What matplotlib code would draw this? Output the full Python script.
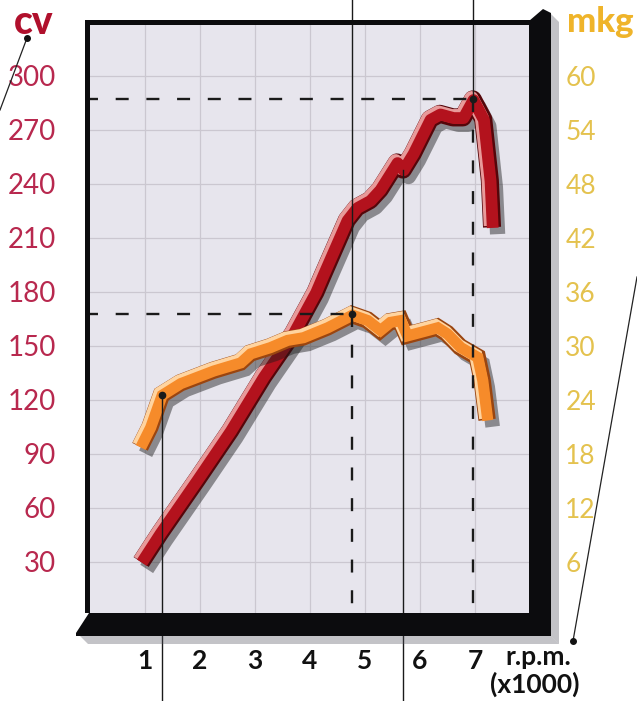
import matplotlib.pyplot as plt
import matplotlib.patheffects as pe
import matplotlib.transforms as mtransforms
from matplotlib.patches import Polygon
from matplotlib.lines import Line2D

plt.rcParams['font.family'] = ['Lato', 'DejaVu Sans']

# power curve (cv) against engine speed (x1000 rpm)
rpm_power = [0.93, 1.27, 1.95, 2.55, 3.15, 3.69, 4.1, 4.24, 4.67, 4.85, 5.09,
             5.27, 5.58, 5.69, 5.87, 6.18, 6.36, 6.6, 6.78, 6.96, 7.15, 7.27, 7.31]
power_cv = [30, 46, 76, 103, 133, 157, 180, 190, 220, 227, 231,
            237, 252, 248, 257, 276, 279, 277, 277, 287, 276, 242, 216]

# torque curve (mkg)
rpm_torque = [0.91, 1.09, 1.3, 1.64, 2.24, 2.73, 2.91, 3.27, 3.58, 3.87, 4.31, 4.76,
              5.04, 5.27, 5.45, 5.64, 5.76, 6.13, 6.31, 6.49, 6.73, 7.04, 7.13, 7.22]
torque_mkg = [18.8, 21, 24.6, 25.9, 27.3, 28.2, 29.2, 29.9, 30.7, 31, 32.1, 33.5,
              32.9, 31.8, 32.7, 32.9, 31.2, 31.8, 32.1, 31.4, 29.9, 28.8, 26.2, 21.8]

cv_ticks = list(range(30, 301, 30))
mkg_ticks = list(range(6, 61, 6))
rpm_ticks = list(range(1, 8))

W, H = 637, 701
fig = plt.figure(figsize=(W / 100, H / 100), dpi=100)
# pixel coordinates (origin top-left) for the decorations
px = mtransforms.Affine2D().scale(1 / W, -1 / H).translate(0, 1) + fig.transFigure

L, T, R, B = 85, 20, 532, 613
ax = fig.add_axes([L / W, 1 - B / H, (R - L) / W, (B - T) / H])
ax.set_facecolor('#e7e5ed')
ax.set_xlim(1 + (L - 145) / 55, 1 + (R - 145) / 55)
ax.set_ylim((616 - B) / 1.8, (616 - T) / 1.8)
for s in ax.spines.values():
    s.set_visible(False)

ax.set_xticks(rpm_ticks)
ax.set_yticks(cv_ticks)
ax.grid(True, color='#cbc7d0', lw=0.9)
ax.set_axisbelow(True)
ax.tick_params(axis='y', length=0, pad=21, labelsize=20, labelcolor='#b8284e')
ax.tick_params(axis='x', length=0, pad=26, labelsize=19, labelcolor='#111111')
for lbl in ax.get_xticklabels():
    lbl.set_fontweight('bold')

sec = ax.secondary_yaxis('right', functions=(lambda c: c / 5, lambda m: m * 5))
sec.set_yticks(mkg_ticks)
sec.tick_params(length=0, pad=24, labelsize=19, labelcolor='#e4c24e')
for s in sec.spines.values():
    s.set_visible(False)


def ribbon(x, y, main, dark, light, lw, join):
    ax.plot(x, y, color=main, lw=lw, solid_capstyle='butt', solid_joinstyle=join,
            zorder=3, path_effects=[
                pe.SimpleLineShadow(offset=(4, -5), shadow_color='#1a1a1a', alpha=0.45),
                pe.Stroke(linewidth=lw + 2, foreground=dark),
                pe.Stroke(linewidth=lw - 1, foreground=light, offset=(-1, 1)),
                pe.Stroke(linewidth=lw - 2.5, foreground=main, offset=(0.5, -0.5)),
            ])


ribbon(rpm_power, power_cv, '#b3121d', '#55060a', '#e89a9a', 11, 'round')
torque_cv = [m * 5 for m in torque_mkg]
ribbon(rpm_torque, torque_cv, '#f68b2a', '#9a4510', '#ffd4a0', 10.5, 'miter')

# peak markers and call-out lines
inv = ax.transData.inverted()
y_fig_top = inv.transform(fig.transFigure.transform((0, 1)))[1]
y_fig_bot = inv.transform(fig.transFigure.transform((0, 0)))[1]
y_ax_bot = ax.get_ylim()[0]
x_ax_left = ax.get_xlim()[0]

ip = power_cv.index(max(power_cv))
it = torque_mkg.index(max(torque_mkg))
peaks = [(rpm_power[ip], power_cv[ip]), (rpm_torque[it], torque_cv[it])]
dash = (0, (5.5, 7.5))
for px_, py_ in peaks:
    ax.plot([px_, px_], [y_fig_top, py_], color='#1a1a1a', lw=1.0, clip_on=False, zorder=5)
    ax.plot([px_, px_], [py_, y_ax_bot], color='#1a1a1a', lw=1.7, ls=dash, zorder=5)
    ax.plot([x_ax_left, px_], [py_, py_], color='#1a1a1a', lw=1.7, ls=dash, zorder=5)
    ax.plot(px_, py_, 'o', color='#1a1a1a', ms=4.5, zorder=6)

# low-speed torque point and mid-range power dip
ax.plot([rpm_torque[2]] * 2, [torque_cv[2], y_fig_bot], color='#1a1a1a', lw=1.0,
        clip_on=False, zorder=5)
ax.plot(rpm_torque[2], torque_cv[2], 'o', color='#1a1a1a', ms=4.5, zorder=6)
ax.plot([rpm_power[13]] * 2, [power_cv[13], y_fig_bot], color='#1a1a1a', lw=1.0,
        clip_on=False, zorder=5)

# frame: thin top/left border, heavy right and bottom bands with shadow
frame = [
    [(85, 20), (532, 20), (532, 25), (90, 25), (90, 613), (85, 613)],
    [(529, 21), (543, 9), (551, 13), (551, 636), (529, 636)],
    [(76, 633), (89, 613), (551, 613), (551, 636), (76, 636)],
]
for pts in frame:
    fig.add_artist(Polygon(pts, closed=True, transform=px, facecolor='#0c0c0e',
                           edgecolor='none', zorder=4))
for pts in [[(80, 636), (551, 636), (559, 644), (88, 644)],
            [(551, 14), (559, 22), (559, 644), (551, 636)]]:
    fig.add_artist(Polygon(pts, closed=True, transform=px, facecolor='#555560',
                           edgecolor='none', alpha=0.35, zorder=4))

# leader lines to the unit labels
fig.add_artist(Line2D([27, 0], [38, 110], transform=px, color='#222222', lw=0.9))
fig.add_artist(Line2D([27], [38], transform=px, marker='o', ms=4, color='#111111'))
fig.add_artist(Line2D([573, 637], [641, 277], transform=px, color='#222222', lw=0.9))
fig.add_artist(Line2D([573], [641], transform=px, marker='o', ms=4, color='#111111'))

fig.text(34 / W, 1 - 22 / H, 'cv', color='#b0102c', fontsize=28, fontweight='black',
         ha='center', va='center')
fig.text(600 / W, 1 - 22 / H, 'mkg', color='#efb42a', fontsize=25, fontweight='black',
         ha='center', va='center')
fig.text(538 / W, 1 - 657 / H, 'r.p.m.', color='#111111', fontsize=19,
         fontweight='bold', ha='center', va='center')
fig.text(535 / W, 1 - 684 / H, '(x1000)', color='#111111', fontsize=19,
         fontweight='bold', ha='center', va='center')

fig.savefig('out.png', dpi=100, facecolor='white')
